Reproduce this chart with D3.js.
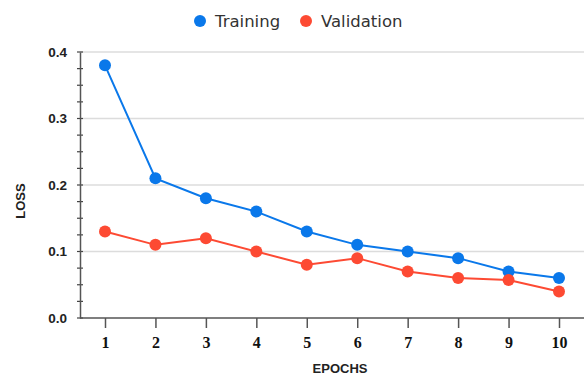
<!DOCTYPE html>
<html><head><meta charset="utf-8">
<script src="https://cdn.jsdelivr.net/npm/d3@7"></script>
<style>body{margin:0;background:#fff}svg{display:block}</style>
</head><body>
<svg id="c" width="587" height="376"></svg>
<script>
const epochs = [1,2,3,4,5,6,7,8,9,10];
const training = [0.38,0.21,0.18,0.16,0.13,0.11,0.10,0.09,0.07,0.06];
const validation = [0.13,0.11,0.12,0.10,0.08,0.09,0.07,0.06,0.057,0.04];
const yTicks = [0.0,0.1,0.2,0.3,0.4];
const seriesNames = ["Training","Validation"];
const colors = ["#0a78ea","#fd4a33"];

const svg = d3.select("#c");
const x = d3.scaleLinear().domain([1,10]).range([105,559]);
const y = d3.scaleLinear().domain([0,0.4]).range([318,52]);
const left = 80, right = 584;

// gridlines
svg.append("g").selectAll("line").data(yTicks.filter(d=>d>0)).join("line")
  .attr("x1",left).attr("x2",right).attr("y1",d=>y(d)).attr("y2",d=>y(d))
  .attr("stroke","#dcdcdc").attr("stroke-width",1.5);

// minor ticks on y axis
const minor = d3.range(0,0.4001,0.025);
svg.append("g").selectAll("line").data(minor).join("line")
  .attr("x1",left-3).attr("x2",left+3).attr("y1",d=>y(d)).attr("y2",d=>y(d))
  .attr("stroke","#444").attr("stroke-width",1.2);

// y axis
const yAxis = d3.axisLeft(y).tickValues(yTicks).tickFormat(d3.format(".1f")).tickSize(0).tickPadding(13);
const gy = svg.append("g").attr("transform",`translate(${left},0)`).call(yAxis);
gy.select(".domain").attr("stroke","#555").attr("stroke-width",1.5);
gy.selectAll("text").attr("font-family","Arial, 'Liberation Sans', sans-serif")
  .attr("font-weight","bold").attr("font-size",13.5).attr("fill","#222");

// x axis
const xAxis = d3.axisBottom(x).tickValues(epochs).tickSize(10).tickPadding(9).tickSizeOuter(0);
const gx = svg.append("g").attr("transform",`translate(0,318)`).call(xAxis);
gx.select(".domain").attr("d",`M${left},0H${right}`).attr("stroke","#555").attr("stroke-width",1.5);
gx.selectAll(".tick line").attr("stroke","#555").attr("stroke-width",1.5);
gx.selectAll("text").attr("font-family","'Liberation Serif','Times New Roman',serif")
  .attr("font-weight","bold").attr("font-size",16).attr("fill","#111");

// axis titles
svg.append("text").attr("transform","translate(25,201) rotate(-90)").attr("text-anchor","middle")
  .attr("font-family","Arial, 'Liberation Sans', sans-serif").attr("font-weight","bold")
  .attr("font-size",13).attr("fill","#222").text("LOSS");
svg.append("text").attr("x",340).attr("y",373).attr("text-anchor","middle")
  .attr("font-family","Arial, 'Liberation Sans', sans-serif").attr("font-weight","bold")
  .attr("font-size",13).attr("fill","#222").text("EPOCHS");

// series
const data = [training, validation];
const line = d3.line().x((d,i)=>x(epochs[i])).y(d=>y(d));
data.forEach((s,k)=>{
  svg.append("path").datum(s).attr("d",line).attr("fill","none")
    .attr("stroke",colors[k]).attr("stroke-width",2);
  svg.append("g").selectAll("circle").data(s).join("circle")
    .attr("cx",(d,i)=>x(epochs[i])).attr("cy",d=>y(d)).attr("r",6).attr("fill",colors[k]);
});

// legend
const legX = [200,306];
seriesNames.forEach((n,k)=>{
  svg.append("circle").attr("cx",legX[k]).attr("cy",21).attr("r",6).attr("fill",colors[k]);
  svg.append("text").attr("x",legX[k]+15).attr("y",27)
    .attr("font-family","Verdana, 'DejaVu Sans', sans-serif").attr("font-size",16.5)
    .attr("fill","#333").text(n);
});
</script>
</body></html>
